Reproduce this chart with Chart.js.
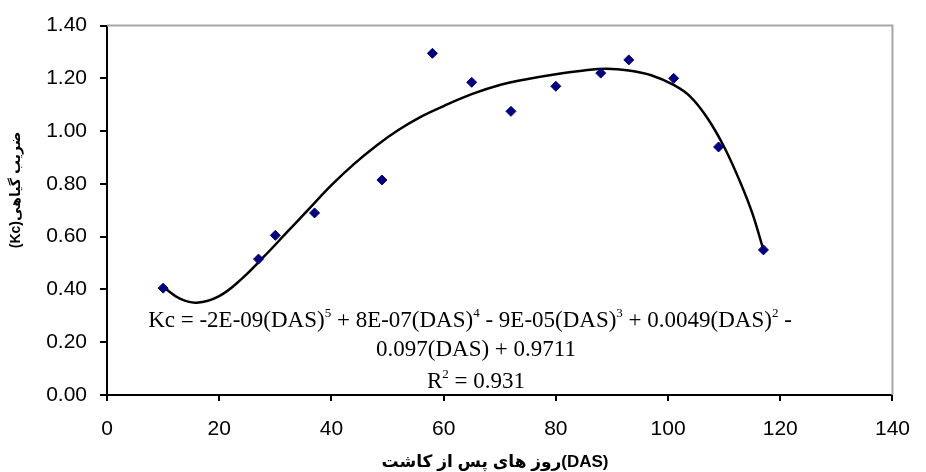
<!DOCTYPE html>
<html>
<head>
<meta charset="utf-8">
<script src="https://cdn.jsdelivr.net/npm/chart.js@4/dist/chart.umd.min.js"></script>
<style>
  html, body { margin: 0; padding: 0; background: #fff; }
  #wrap { width: 926px; height: 472px; }
</style>
</head>
<body>
<div id="wrap"><canvas id="chart" width="926" height="472"></canvas></div>
<script>
// Measured Kc by days after sowing (DAS)
const dasDays = [10, 27, 30, 37, 49, 58, 65, 72, 80, 88, 93, 101, 109, 117];
const kcValues = [0.405, 0.515, 0.605, 0.69, 0.815, 1.295, 1.185, 1.075, 1.17, 1.22, 1.27, 1.20, 0.94, 0.55];

// Trendline
const trendDays = [10, 13, 16, 20, 24, 28, 32, 36, 40, 44, 48, 52, 56, 60, 65, 70, 75, 80, 85, 89, 93, 97, 101, 104, 107, 110, 113, 115, 117];
const trendKc = [0.41, 0.365, 0.35, 0.375, 0.44, 0.525, 0.615, 0.705, 0.795, 0.875, 0.945, 1.005, 1.055, 1.095, 1.14, 1.175, 1.198, 1.216, 1.23, 1.236, 1.23, 1.212, 1.175, 1.13, 1.05, 0.94, 0.80, 0.69, 0.55];

// Axis ticks
const xTickValues = [0, 20, 40, 60, 80, 100, 120, 140];
const yTickValues = [0, 0.2, 0.4, 0.6, 0.8, 1.0, 1.2, 1.4];

const xTitle = 'روز های پس از کاشت(DAS)';
const yTitle = '(Kc)ضریب گیاهی';

// Equation lines: [text, isSuperscript]
const equationLines = [
  [['Kc = -2E-09(DAS)', false], ['5', true], [' + 8E-07(DAS)', false], ['4', true],
   [' - 9E-05(DAS)', false], ['3', true], [' + 0.0049(DAS)', false], ['2', true], [' -', false]],
  [['0.097(DAS) + 0.9711', false]],
  [['R', false], ['2', true], [' = 0.931', false]]
];

const points = dasDays.map((d, i) => ({ x: d, y: kcValues[i] }));
const trend = trendDays.map((d, i) => ({ x: d, y: trendKc[i] }));

// Draws axis titles, equation and the grey frame
const decorPlugin = {
  id: 'decor',
  afterDraw(chart) {
    const ctx = chart.ctx;
    const a = chart.chartArea;
    ctx.save();

    // grey plot frame on top and right
    ctx.strokeStyle = '#a6a6a6';
    ctx.lineWidth = 2;
    ctx.beginPath();
    ctx.moveTo(a.left, a.top);
    ctx.lineTo(a.right, a.top);
    ctx.lineTo(a.right, a.bottom);
    ctx.stroke();

    ctx.fillStyle = '#000';
    ctx.textBaseline = 'middle';
    ctx.textAlign = 'center';

    // x title
    ctx.font = 'bold 17px "Liberation Sans", "DejaVu Sans", sans-serif';
    ctx.fillText(xTitle, 495, 462);

    // y title
    ctx.save();
    ctx.translate(16, 190);
    ctx.rotate(-Math.PI / 2);
    ctx.font = 'bold 14px "Liberation Sans", "DejaVu Sans", sans-serif';
    ctx.fillText(yTitle, 0, 0);
    ctx.restore();

    // trendline equation
    const baseFont = '23px "Liberation Serif", serif';
    const supFont = '13px "Liberation Serif", serif';
    const centers = [470, 476, 476];
    const rows = [327, 356, 388];
    ctx.textAlign = 'left';
    ctx.textBaseline = 'alphabetic';
    equationLines.forEach((line, li) => {
      let width = 0;
      line.forEach(([t, sup]) => {
        ctx.font = sup ? supFont : baseFont;
        width += ctx.measureText(t).width;
      });
      let x = centers[li] - width / 2;
      line.forEach(([t, sup]) => {
        ctx.font = sup ? supFont : baseFont;
        ctx.fillText(t, x, sup ? rows[li] - 10 : rows[li]);
        x += ctx.measureText(t).width;
      });
    });

    ctx.restore();
  }
};

new Chart(document.getElementById('chart'), {
  type: 'scatter',
  data: {
    datasets: [
      {
        label: 'Kc',
        data: points,
        order: 0,
        pointStyle: 'rectRot',
        pointRadius: 5,
        pointBackgroundColor: '#000080',
        pointBorderColor: '#000080',
        pointBorderWidth: 1,
        showLine: false
      },
      {
        label: 'Poly. (Kc)',
        data: trend,
        order: 1,
        showLine: true,
        borderColor: '#000',
        borderWidth: 2.5,
        pointRadius: 0,
        tension: 0.4,
        fill: false
      }
    ]
  },
  options: {
    responsive: false,
    animation: false,
    layout: { padding: { top: 21, right: 20, left: 0, bottom: 0 } },
    plugins: {
      legend: { display: false },
      tooltip: { enabled: false }
    },
    scales: {
      x: {
        type: 'linear',
        min: 0,
        max: 140,
        afterBuildTicks: s => { s.ticks = xTickValues.map(v => ({ value: v })); },
        afterFit: s => { s.height = 77; },
        border: { color: '#000', width: 2 },
        grid: { drawOnChartArea: false, color: '#000', lineWidth: 2, tickLength: 6 },
        ticks: {
          color: '#000',
          padding: 16,
          font: { family: '"Liberation Sans", Arial, sans-serif', size: 21 },
          maxRotation: 0
        }
      },
      y: {
        type: 'linear',
        min: 0,
        max: 1.4,
        afterBuildTicks: s => { s.ticks = yTickValues.map(v => ({ value: v })); },
        afterFit: s => { s.width = 107; },
        border: { color: '#000', width: 2 },
        grid: { drawOnChartArea: false, color: '#000', lineWidth: 2, tickLength: 7 },
        ticks: {
          color: '#000',
          padding: 13,
          font: { family: '"Liberation Sans", Arial, sans-serif', size: 21 },
          callback: v => Number(v).toFixed(2)
        }
      }
    }
  },
  plugins: [decorPlugin]
});
</script>
</body>
</html>
